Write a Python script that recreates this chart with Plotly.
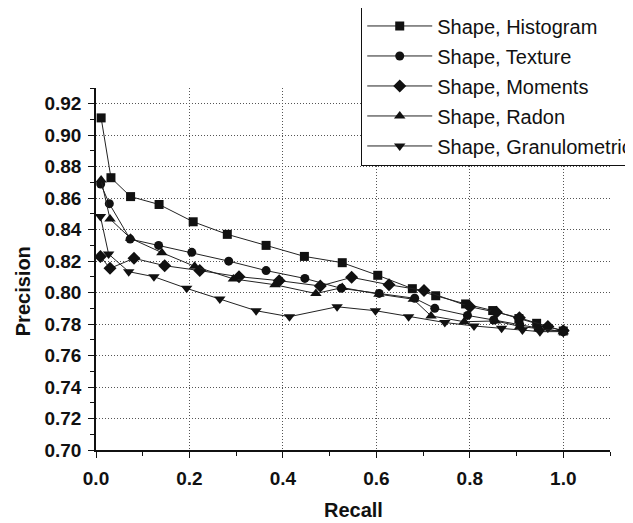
import plotly.graph_objects as go

# ---- data ----
recall_hist = [0.011, 0.032, 0.074, 0.135, 0.208, 0.281, 0.364, 0.446, 0.527, 0.603, 0.677, 0.727, 0.791, 0.849, 0.905, 0.943, 1.0]
prec_hist = [0.911, 0.873, 0.861, 0.856, 0.845, 0.837, 0.830, 0.823, 0.819, 0.811, 0.8025, 0.798, 0.7928, 0.7886, 0.7835, 0.7805, 0.7756]

recall_tex = [0.010, 0.0285, 0.073, 0.134, 0.205, 0.284, 0.364, 0.447, 0.525, 0.606, 0.682, 0.725, 0.795, 0.851, 0.907, 0.946, 1.0]
prec_tex = [0.869, 0.8565, 0.834, 0.830, 0.8256, 0.820, 0.814, 0.809, 0.8027, 0.7995, 0.7964, 0.790, 0.7855, 0.7826, 0.7795, 0.7775, 0.7752]

recall_mom = [0.0095, 0.030, 0.0813, 0.147, 0.222, 0.306, 0.392, 0.480, 0.547, 0.627, 0.702, 0.800, 0.857, 0.906, 0.967, 1.0]
prec_mom = [0.8229, 0.8154, 0.8218, 0.8171, 0.814, 0.8101, 0.8076, 0.8042, 0.8097, 0.8050, 0.8013, 0.7910, 0.7875, 0.7840, 0.7785, 0.7757]

recall_rad = [0.011, 0.030, 0.074, 0.141, 0.211, 0.294, 0.383, 0.4706, 0.527, 0.6055, 0.679, 0.717, 0.788, 0.855, 0.907, 0.948, 1.0]
prec_rad = [0.8716, 0.8468, 0.8345, 0.8254, 0.8167, 0.8087, 0.8050, 0.7994, 0.8032, 0.7990, 0.7958, 0.7852, 0.7815, 0.7820, 0.7785, 0.7770, 0.7752]

recall_gra = [0.0095, 0.027, 0.070, 0.124, 0.194, 0.265, 0.3426, 0.414, 0.516, 0.598, 0.669, 0.7465, 0.809, 0.868, 0.9126, 0.950, 1.0]
prec_gra = [0.8483, 0.8245, 0.8133, 0.8101, 0.8027, 0.796, 0.7885, 0.7847, 0.791, 0.7885, 0.7847, 0.781, 0.7788, 0.7773, 0.7762, 0.7752, 0.7752]

series_names = ["Shape, Histogram", "Shape, Texture", "Shape, Moments", "Shape, Radon", "Shape, Granulometric"]
x_tick_vals = [0.0, 0.2, 0.4, 0.6, 0.8, 1.0]
y_tick_vals = [0.70, 0.72, 0.74, 0.76, 0.78, 0.80, 0.82, 0.84, 0.86, 0.88, 0.90, 0.92]

FONT = "Liberation Sans, Arial, sans-serif"
series = [
    (recall_hist, prec_hist, "square", 9),
    (recall_tex, prec_tex, "circle", 9),
    (recall_mom, prec_mom, "diamond", 10),
    (recall_rad, prec_rad, "triangle-up", 10),
    (recall_gra, prec_gra, "triangle-down", 10),
]

fig = go.Figure()
for i, (name, (xs, ys, sym, sz)) in enumerate(zip(series_names, series)):
    fig.add_trace(go.Scatter(
        x=xs, y=ys, mode="lines+markers", name=name, legendgroup=f"g{i}",
        line=dict(color="#222", width=1),
        marker=dict(symbol=sym, size=sz, color="#111"),
    ))

axis_common = dict(
    showline=True, linecolor="#111", linewidth=1.5,
    ticks="outside", ticklen=6, tickwidth=1.2, tickcolor="#111",
    showgrid=True, gridcolor="#555", gridwidth=1, griddash="1px,2px",
    zeroline=False, mirror=False,
    tickfont=dict(family=FONT, size=19, color="#111", weight="bold"),
)

fig.update_xaxes(
    range=[0, 1.1], tickvals=x_tick_vals, tickformat=".1f",
    minor=dict(dtick=0.1, tick0=0, ticks="outside", ticklen=4, tickcolor="#111", showgrid=False),
    ticklabelstandoff=4,
    **axis_common,
)
fig.update_yaxes(
    range=[0.70, 0.93], tickvals=y_tick_vals, tickformat=".2f",
    minor=dict(dtick=0.01, tick0=0.70, ticks="outside", ticklen=4, tickcolor="#111", showgrid=False),
    ticklabelstandoff=3,
    **axis_common,
)

fig.add_annotation(text="<b>Recall</b>", xref="paper", yref="paper", x=0.5, y=-0.165,
                   xanchor="center", yanchor="middle", showarrow=False,
                   font=dict(family=FONT, size=20, color="#111"))
fig.add_annotation(text="<b>Precision</b>", xref="paper", yref="paper", x=-0.143, y=0.44,
                   xanchor="center", yanchor="middle", showarrow=False, textangle=-90,
                   font=dict(family=FONT, size=20, color="#111"))

# page body has an 8px margin, so the figure is 8px smaller and offset
fig.update_layout(
    width=625, height=515,
    margin=dict(l=88, r=23, t=80, b=73, autoexpand=False),
    paper_bgcolor="white", plot_bgcolor="white",
    showlegend=True,
    legend=dict(
        x=0.516, y=1.228, xanchor="left", yanchor="top",
        bgcolor="white", bordercolor="#111", borderwidth=1,
        font=dict(family=FONT, size=20, color="#111"),
        tracegroupgap=1, itemwidth=65,
    ),
)

fig.write_html("out.html")
